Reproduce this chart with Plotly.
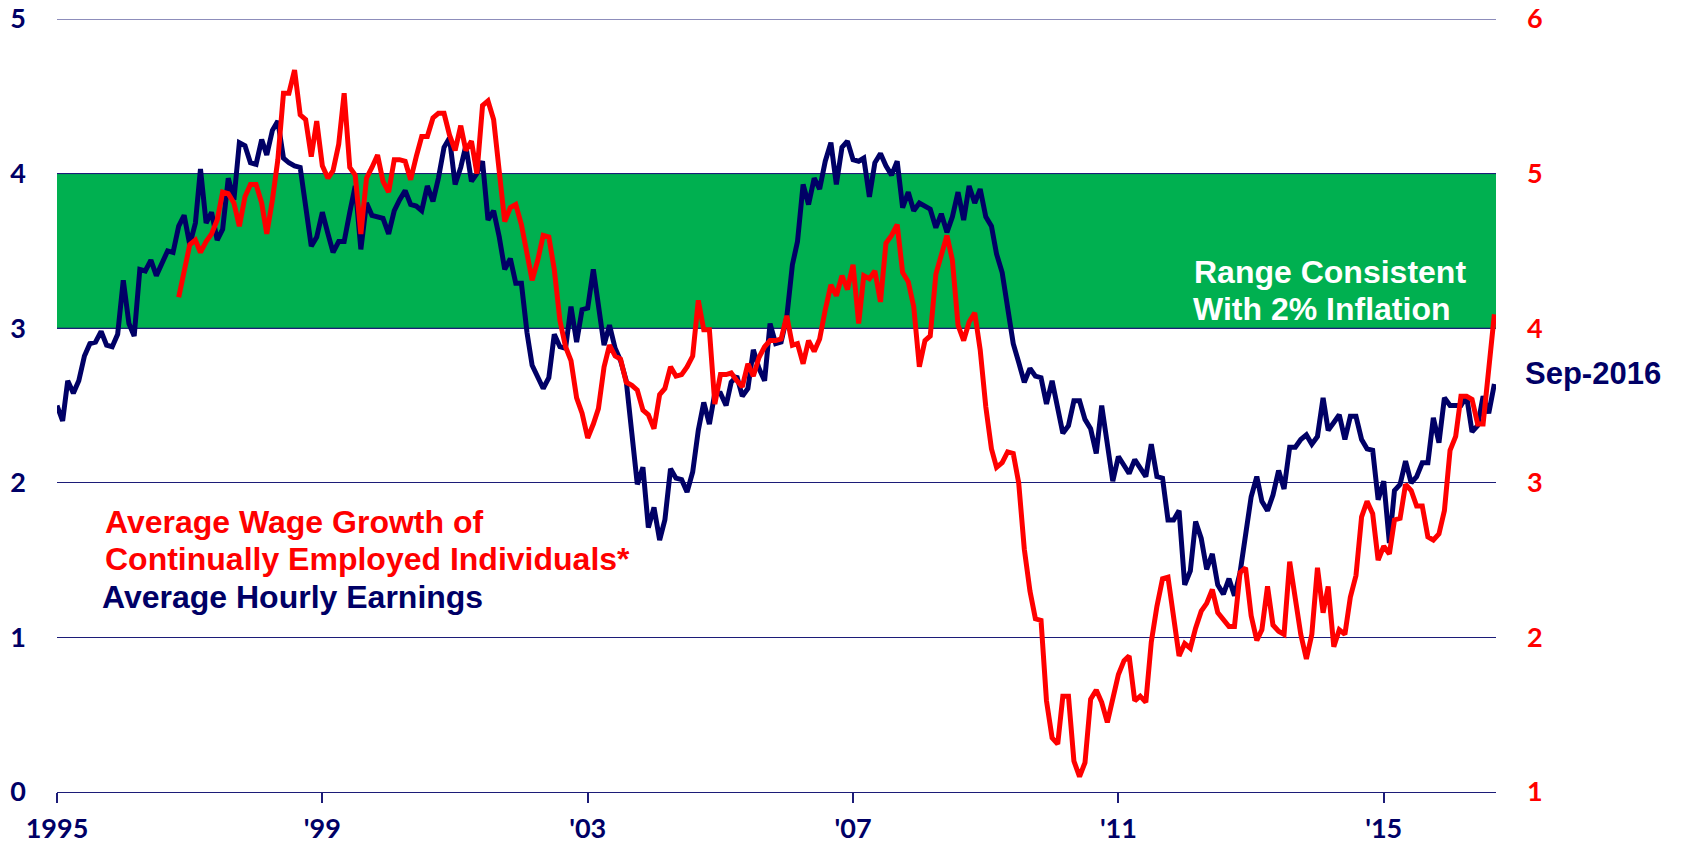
import pandas as pd
import plotly.graph_objects as go

# Average Hourly Earnings, y/y % (left axis), monthly from Jan-1995
ahe = [
    2.50, 2.40, 2.66, 2.58, 2.66, 2.82, 2.90, 2.91, 2.98, 2.89, 2.88, 2.96,  # 1995
    3.31, 3.03, 2.95, 3.38, 3.37, 3.44, 3.34, 3.42, 3.50, 3.49, 3.66, 3.73,  # 1996
    3.54, 3.68, 4.03, 3.68, 3.75, 3.57, 3.64, 3.97, 3.83, 4.20, 4.18, 4.07,  # 1997
    4.06, 4.22, 4.12, 4.28, 4.34, 4.10, 4.07, 4.05, 4.04, 3.79, 3.53, 3.59,  # 1998
    3.75, 3.61, 3.49, 3.56, 3.56, 3.75, 3.92, 3.51, 3.81, 3.73, 3.72, 3.71,  # 1999
    3.61, 3.76, 3.83, 3.89, 3.80, 3.79, 3.76, 3.92, 3.82, 3.97, 4.17, 4.23,  # 2000
    3.93, 4.04, 4.18, 3.95, 4.00, 4.08, 3.70, 3.76, 3.59, 3.38, 3.45, 3.29,  # 2001
    3.29, 2.97, 2.76, 2.69, 2.61, 2.68, 2.96, 2.88, 2.87, 3.14, 2.91, 3.12,  # 2002
    3.13, 3.38, 3.14, 2.89, 3.02, 2.87, 2.79, 2.66, 2.32, 1.99, 2.10, 1.71,  # 2003
    1.84, 1.63, 1.76, 2.09, 2.03, 2.02, 1.94, 2.07, 2.34, 2.52, 2.38, 2.58,  # 2004
    2.58, 2.50, 2.65, 2.69, 2.56, 2.61, 2.86, 2.74, 2.66, 3.03, 2.90, 2.91,  # 2005
    3.07, 3.41, 3.56, 3.93, 3.80, 3.97, 3.90, 4.08, 4.20, 3.93, 4.17, 4.21,  # 2006
    4.09, 4.08, 4.10, 3.85, 4.07, 4.13, 4.05, 3.99, 4.08, 3.78, 3.88, 3.76,  # 2007
    3.81, 3.79, 3.77, 3.65, 3.74, 3.62, 3.72, 3.88, 3.70, 3.92, 3.81, 3.90,  # 2008
    3.72, 3.66, 3.48, 3.36, 3.11, 2.90, 2.78, 2.65, 2.74, 2.69, 2.68, 2.51,  # 2009
    2.66, 2.49, 2.32, 2.37, 2.53, 2.53, 2.41, 2.35, 2.19, 2.50, 2.22, 2.01,  # 2010
    2.17, 2.11, 2.06, 2.15, 2.10, 2.04, 2.25, 2.04, 2.03, 1.76, 1.76, 1.82,  # 2011
    1.34, 1.43, 1.75, 1.64, 1.44, 1.54, 1.34, 1.28, 1.38, 1.27, 1.42, 1.66,  # 2012
    1.91, 2.04, 1.88, 1.82, 1.92, 2.08, 1.96, 2.23, 2.23, 2.28, 2.31, 2.25,  # 2013
    2.30, 2.55, 2.34, 2.39, 2.44, 2.28, 2.43, 2.43, 2.28, 2.22, 2.21, 1.89,  # 2014
    2.01, 1.61, 1.95, 1.99, 2.14, 2.00, 2.04, 2.13, 2.13, 2.42, 2.26, 2.55,  # 2015
    2.50, 2.50, 2.50, 2.56, 2.33, 2.37, 2.56, 2.45, 2.64,                    # 2016
]

# Wage growth of continually employed individuals (right axis), from Nov-1996
wage_growth = [
    4.20, 4.36,                                                              # 1996
    4.54, 4.57, 4.49, 4.56, 4.61, 4.70, 4.88, 4.87, 4.81, 4.66, 4.85, 4.93,  # 1997
    4.93, 4.81, 4.61, 4.83, 5.09, 5.52, 5.52, 5.67, 5.38, 5.35, 5.11, 5.34,  # 1998
    5.05, 4.97, 5.02, 5.19, 5.52, 5.04, 4.99, 4.61, 4.97, 5.04, 5.12, 4.95,  # 1999
    4.88, 5.09, 5.09, 5.08, 4.96, 5.11, 5.24, 5.24, 5.36, 5.39, 5.39, 5.25,  # 2000
    5.15, 5.31, 5.15, 5.21, 5.00, 5.44, 5.47, 5.35, 5.00, 4.69, 4.78, 4.80,  # 2001
    4.67, 4.48, 4.31, 4.44, 4.60, 4.59, 4.38, 4.05, 3.88, 3.79, 3.55, 3.45,  # 2002
    3.29, 3.38, 3.48, 3.75, 3.89, 3.82, 3.80, 3.65, 3.63, 3.60, 3.47, 3.44,  # 2003
    3.35, 3.57, 3.61, 3.75, 3.69, 3.70, 3.75, 3.82, 4.18, 3.99, 3.99, 3.51,  # 2004
    3.70, 3.70, 3.71, 3.66, 3.62, 3.77, 3.69, 3.81, 3.88, 3.92, 3.92, 3.93,  # 2005
    4.08, 3.89, 3.90, 3.77, 3.92, 3.85, 3.93, 4.12, 4.28, 4.21, 4.34, 4.25,  # 2006
    4.41, 4.03, 4.34, 4.32, 4.37, 4.17, 4.55, 4.60, 4.67, 4.36, 4.30, 4.14,  # 2007
    3.75, 3.92, 3.95, 4.35, 4.47, 4.60, 4.44, 4.02, 3.92, 4.04, 4.10, 3.86,  # 2008
    3.49, 3.22, 3.10, 3.13, 3.20, 3.19, 3.00, 2.57, 2.30, 2.12, 2.11, 1.59,  # 2009
    1.35, 1.31, 1.62, 1.62, 1.20, 1.10, 1.19, 1.60, 1.66, 1.58, 1.45, 1.60,  # 2010
    1.76, 1.85, 1.88, 1.59, 1.62, 1.58, 1.97, 2.20, 2.38, 2.39, 2.14, 1.88,  # 2011
    1.96, 1.93, 2.06, 2.17, 2.22, 2.31, 2.16, 2.11, 2.07, 2.07, 2.42, 2.45,  # 2012
    2.14, 1.98, 2.05, 2.33, 2.08, 2.04, 2.02, 2.49, 2.24, 2.02, 1.86, 2.02,  # 2013
    2.45, 2.16, 2.33, 1.94, 2.05, 2.02, 2.26, 2.40, 2.78, 2.88, 2.80, 2.50,  # 2014
    2.59, 2.54, 2.76, 2.77, 2.99, 2.95, 2.85, 2.85, 2.65, 2.63, 2.67, 2.82,  # 2015
    3.21, 3.30, 3.56, 3.56, 3.54, 3.38, 3.38, 3.72, 4.09,                    # 2016
]

tick_dates = ["1995-01-01", "1999-01-01", "2003-01-01", "2007-01-01", "2011-01-01", "2015-01-01"]
tick_text = ["1995", "'99", "'03", "'07", "'11", "'15"]

ahe_dates = pd.date_range("1995-01-01", periods=len(ahe), freq="MS")
wage_dates = pd.date_range("1996-11-01", periods=len(wage_growth), freq="MS")

NAVY = "#000066"
GRID = "#1c1c78"
RED = "#FF0000"
GREEN = "#00B050"
TEXT_FONT = "Liberation Sans, Arial, sans-serif"
TICK_FONT = "Lato, Liberation Sans, sans-serif"

fig = go.Figure()
fig.add_trace(go.Scatter(x=ahe_dates, y=ahe, mode="lines", name="Average Hourly Earnings",
                         line=dict(color=NAVY, width=5)))
fig.add_trace(go.Scatter(x=wage_dates, y=wage_growth, mode="lines",
                         name="Average Wage Growth of Continually Employed Individuals*",
                         line=dict(color=RED, width=5), yaxis="y2"))

# green band, 3-4% on left axis
fig.add_shape(type="rect", xref="paper", x0=0, x1=1, yref="y", y0=3, y1=4,
              fillcolor=GREEN, line=dict(width=0), layer="below")
for lvl in (3, 4, 5):
    fig.add_shape(type="line", xref="paper", x0=0, x1=1, yref="y", y0=lvl, y1=lvl,
                  line=dict(color=GRID, width=1), layer="below")

# page body has an 8px margin, so the figure is sized to fit inside it
fig.update_layout(
    width=1665, height=833,
    margin=dict(l=49, r=177, t=11, b=49),
    plot_bgcolor="white", paper_bgcolor="white",
    showlegend=False,
    xaxis=dict(
        range=["1995-01-01", "2016-09-10"], automargin=False,
        tickvals=tick_dates, ticktext=tick_text,
        showgrid=False, showline=True, linecolor=GRID, linewidth=1,
        ticks="outside", ticklen=10, tickwidth=1.5, tickcolor=GRID,
        ticklabelstandoff=3, ticklabeloverflow="allow",
        tickfont=dict(family=TICK_FONT, size=27, color=NAVY, weight="bold"),
    ),
    yaxis=dict(
        range=[0, 5], dtick=1, showgrid=True, gridcolor=GRID, gridwidth=1,
        zeroline=False, ticks="", ticklabelstandoff=30, automargin=False,
        ticklabeloverflow="allow",
        tickfont=dict(family=TICK_FONT, size=27, color=NAVY, weight="bold"),
    ),
    yaxis2=dict(
        range=[1, 6], dtick=1, overlaying="y", side="right", showgrid=False,
        zeroline=False, ticks="", ticklabelstandoff=30, automargin=False,
        ticklabeloverflow="allow",
        tickfont=dict(family=TICK_FONT, size=27, color=RED, weight="bold"),
    ),
)

notes = [
    ("Average Wage Growth of", 0.0318, 0.3497, RED, 32),
    ("Continually Employed Individuals*", 0.0318, 0.3008, RED, 32),
    ("Average Hourly Earnings", 0.0299, 0.2523, NAVY, 32),
    ("Range Consistent", 0.7884, 0.6731, "white", 32),
    ("With 2% Inflation", 0.7878, 0.6252, "white", 32),
    ("Sep-2016", 1.019, 0.5408, NAVY, 31),
]
for txt, xp, yp, col, sz in notes:
    fig.add_annotation(text=txt, xref="paper", yref="paper", x=xp, y=yp,
                       xanchor="left", yanchor="middle", showarrow=False,
                       font=dict(family=TEXT_FONT, size=sz, color=col, weight="bold"))

fig.write_html("out.html")
